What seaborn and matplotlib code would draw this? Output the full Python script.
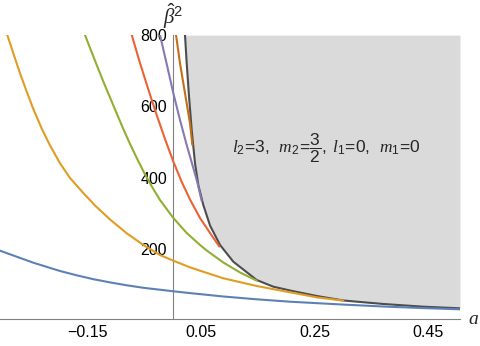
import matplotlib
matplotlib.use("Agg")
from matplotlib import pyplot as plt
from matplotlib.ticker import FixedLocator
import seaborn as sns
import pandas as pd

# curves, a on x and beta-hat^2 on y
blue_a = [-0.3036, -0.2450, -0.1981, -0.1687, -0.1395, -0.1101, -0.0807, -0.0515,
          0.0012, 0.0306, 0.0892, 0.1479, 0.2065, 0.3003, 0.3706, 0.4410, 0.5055]
blue_b = [195.7, 162.0, 138.8, 126.7, 115.8, 106.8, 98.7, 91.7,
          81.9, 76.8, 67.3, 59.4, 52.7, 44.6, 39.2, 34.8, 31.4]

orange_a = [-0.2908, -0.2802, -0.2684, -0.2566, -0.2450, -0.2303, -0.2156, -0.1981,
            -0.1805, -0.1571, -0.1365, -0.1101, -0.0807, -0.0515, -0.0222, 0.0012,
            0.0306, 0.0482, 0.0892, 0.1479, 0.2065, 0.2535, 0.3003]
orange_b = [800.4, 749.1, 693.0, 641.4, 592.9, 538.3, 490.6, 441.0,
            399.5, 357.4, 322.4, 283.2, 244.5, 211.7, 183.6, 167.6,
            149.1, 139.6, 118.3, 96.7, 79.1, 65.0, 55.5]

green_a = [-0.1541, -0.1453, -0.1335, -0.1219, -0.1101, -0.0983, -0.0867, -0.0749,
           -0.0631, -0.0503, -0.0371, -0.0222, 0.0012, 0.0248, 0.0482, 0.0600,
           0.0892, 0.1186, 0.1479]
green_b = [800.4, 764.0, 716.3, 670.0, 625.2, 580.3, 536.9, 494.8,
           455.6, 414.9, 377.1, 337.8, 287.4, 245.3, 211.7, 196.2,
           162.6, 134.6, 111.6]

red_a = [-0.0719, -0.0574, -0.0427, -0.0280, -0.0134, 0.0012, 0.0157, 0.0306,
         0.0482, 0.0658, 0.0821]
red_b = [800.4, 721.9, 647.6, 576.1, 508.8, 445.8, 389.7, 339.2,
         287.4, 245.3, 207.5]

purple_a = [-0.0222, -0.0104, 0.0012, 0.0130, 0.0248, 0.0364, 0.0438, 0.0512]
purple_b = [800.4, 719.1, 637.8, 562.1, 492.0, 427.5, 385.5, 335.0]

brown_a = [0.0060, 0.0130, 0.0218, 0.0306, 0.0347]
brown_b = [800.4, 721.1, 637.0, 552.8, 492.0]

bound_a = [0.0218, 0.0248, 0.0289, 0.0336, 0.0394, 0.0452, 0.0540, 0.0658, 0.0834,
           0.1068, 0.1479, 0.1771, 0.2065, 0.2535, 0.3003, 0.3706, 0.4410, 0.5055]
bound_b = [800.4, 721.1, 627.4, 534.1, 440.7, 379.9, 323.8, 266.3, 211.7,
           164.8, 113.5, 94.8, 84.1, 68.7, 56.1, 46.3, 38.7, 34.2]

curves = [
    (blue_a, blue_b, "#5E81B5"),
    (orange_a, orange_b, "#E19C24"),
    (green_a, green_b, "#8FB032"),
    (red_a, red_b, "#EB6235"),
    (purple_a, purple_b, "#8778B3"),
    (brown_a, brown_b, "#C56E1A"),
]

x_major = [-0.15, 0.05, 0.25, 0.45]
x_labels = ["\u22120.15", "0.05", "0.25", "0.45"]
x_minor = [-0.25, -0.2, -0.1, -0.05, 0.1, 0.15, 0.2, 0.3, 0.35, 0.4]
y_major = [200, 400, 600, 800]
y_minor = [50, 100, 150, 250, 300, 350, 450, 500, 550, 650, 700, 750]

sns.set_style("white")
plt.rcParams["font.family"] = ["Liberation Sans", "DejaVu Sans"]
plt.rcParams["mathtext.fontset"] = "custom"
plt.rcParams["mathtext.rm"] = "Liberation Sans"
plt.rcParams["mathtext.it"] = "Liberation Serif:italic"
plt.rcParams["mathtext.bf"] = "Liberation Sans:bold"

fig = plt.figure(figsize=(4.81, 3.46), dpi=100)
ax = fig.add_axes([0, 1 - 319 / 346, 460 / 481, (319 - 35.1) / 346])
ax.set_xlim(-0.3036, 0.5055)
ax.set_ylim(4.2, 800)

# shaded region right of the boundary
ax.fill_between(bound_a, bound_b, 800, color="#DADADA", lw=0, zorder=1)
bd = pd.DataFrame({"a": bound_a, "b": bound_b})
sns.lineplot(data=bd, x="a", y="b", color="#4D4D4D", lw=1.5, sort=False,
             estimator=None, ax=ax, zorder=2, solid_joinstyle="round")

for xs, ys, col in curves:
    df = pd.DataFrame({"a": xs, "b": ys})
    sns.lineplot(data=df, x="a", y="b", color=col, lw=1.5, sort=False,
                 estimator=None, ax=ax, zorder=3, solid_joinstyle="round")

ax.set_xlabel("")
ax.set_ylabel("")

for s in ["top", "right"]:
    ax.spines[s].set_visible(False)
ax.spines["left"].set_position(("data", 0))
ax.spines["bottom"].set_position(("data", 4.2))
for s in ["left", "bottom"]:
    ax.spines[s].set_color("#808080")
    ax.spines[s].set_linewidth(0.8)
    ax.spines[s].set_zorder(0.5)

ax.xaxis.set_major_locator(FixedLocator(x_major))
ax.set_xticklabels(x_labels)
ax.xaxis.set_minor_locator(FixedLocator(x_minor))
ax.yaxis.set_major_locator(FixedLocator(y_major))
ax.yaxis.set_minor_locator(FixedLocator(y_minor))
ax.tick_params(which="major", direction="in", length=4, width=0.7,
               color="#808080", labelsize=11.5, labelcolor="black", pad=4)
ax.tick_params(which="minor", direction="in", length=2.2, width=0.6,
               color="#808080")

ax.text(0.27, 484, r"$l_2\!=\!3,\;\; m_2\!=\!\dfrac{3}{2},\; l_1\!=\!0,\;\; m_1\!=\!0$",
        ha="center", va="center", fontsize=12.5, zorder=4)

fig.text(474 / 481, 1 - 320 / 346, r"$a$", ha="center", va="center", fontsize=14)
fig.text(173 / 481, 1 - 16 / 346, r"$\hat{\beta}^2$", ha="center", va="center", fontsize=15)

fig.savefig("out.png", dpi=100)
